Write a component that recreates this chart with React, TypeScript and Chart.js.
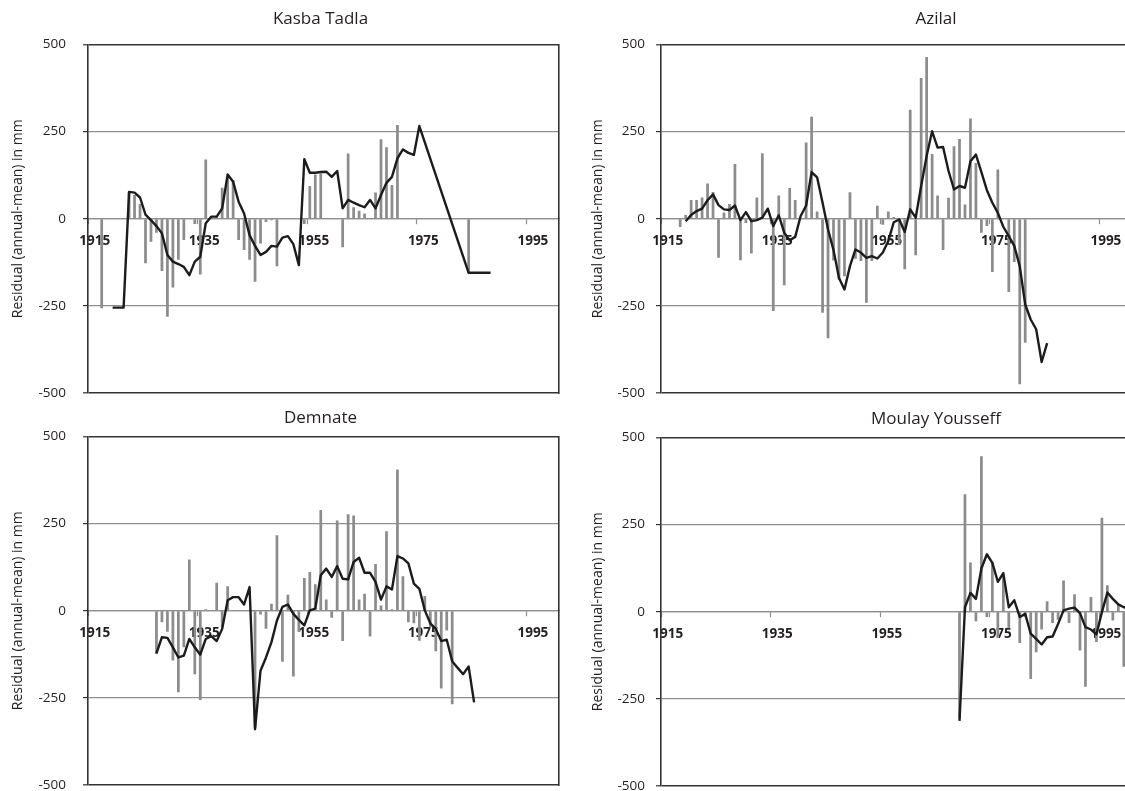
import React, { useEffect, useRef } from "react";
import { Chart, registerables } from "chart.js";

Chart.register(...registerables);

// ---------- categories ----------
const FIRST_YEAR = 1915;
const LEFT_YEAR_COUNT = 86; // 1915-2000
const RIGHT_YEAR_COUNT = 100; // 1915-2014
const leftYears: string[] = Array.from({ length: LEFT_YEAR_COUNT }, (_, i) => String(FIRST_YEAR + i));
const rightYears: string[] = Array.from({ length: RIGHT_YEAR_COUNT }, (_, i) => String(FIRST_YEAR + i));
const TICK_YEARS = ["1915", "1935", "1955", "1975", "1995"];
const Y_TICKS = [-500, -250, 0, 250, 500];

// ---------- Kasba Tadla (1915-2000) ----------
const kasbaBars: (number | null)[] = [
  null, null, -257, null, null, null, null, 75, 68, 42,
  -128, -66, -40, -150, -281, -197, -118, -61, null, -15,
  -160, 170, 8, 4, 89, 120, 111, -61, -90, -118,
  -181, -71, -9, -4, -136, null, null, null, null, -15,
  94, 127, 130, null, null, null, -82, 187, 33, 23,
  15, 2, 75, 228, 205, 97, 269, null, null, null,
  null, null, null, null, null, null, null, null, null, -155,
  null, null, null, null, null, null, null, null, null, null,
  null, null, null, null, null, null,
];
const kasbaLine: (number | null)[] = [
  null, null, null, null, -255, -255, -255, 77, 75, 61,
  12, -4, -21, -42, -104, -123, -130, -138, -162, -123,
  -109, -13, 6, 6, 30, 127, 106, 49, 15, -47,
  -78, -104, -95, -78, -80, -54, -50, -73, -133, 171,
  132, 132, 134, 135, 120, 137, 30, 54, 46, 39,
  33, 54, 30, 68, 103, 120, 173, 199, 189, 183,
  266, null, null, null, null, null, null, null, null, -155,
  -155, -155, -155, -155, null, null, null, null, null, null,
  null, null, null, null, null, null,
];

// ---------- Azilal (1915-2014) ----------
const azilalBars: (number | null)[] = [
  null, null, null, -24, 11, 54, 54, 61, 101, 77,
  -112, 18, 42, 157, -119, -12, -100, 61, 188, null,
  -265, 67, -191, 88, 54, null, 219, 293, 21, -270,
  -343, -120, -175, -165, 76, -115, -121, -241, -121, 37,
  -17, 21, 5, -75, -145, 313, -105, 404, 464, 186,
  67, -90, 60, 208, 229, 41, 288, 160, -40, -21,
  -153, 141, null, -210, -124, -475, -356, null, null, null,
  null, null, null, null, null, null, null, null, null, null,
  null, null, null, null, null, null, null, null, null, null,
  null, null, null, null, null, null, null, null, null, null,
];
const azilalLine: (number | null)[] = [
  null, null, null, null, -7, 11, 22, 29, 53, 70,
  39, 27, 25, 38, -4, 19, -7, -4, 3, 29,
  -21, 10, -40, -62, -52, 8, 38, 134, 119, 46,
  -31, -90, -170, -203, -136, -88, -97, -112, -107, -114,
  -97, -64, -10, -2, -38, 27, 3, 94, 180, 251,
  204, 206, 137, 84, 94, 89, 165, 184, 134, 82,
  46, 17, -23, -50, -78, -136, -246, -289, -317, -411,
  -357, null, null, null, null, null, null, null, null, null,
  null, null, null, null, null, null, null, null, null, null,
  null, null, null, null, null, null, null, null, null, null,
];

// ---------- Demnate (1915-2000) ----------
const demnateBars: (number | null)[] = [
  null, null, null, null, null, null, null, null, null, null,
  null, null, -124, -33, -60, -143, -234, -105, 147, -182,
  -256, 4, null, 80, -47, 70, null, null, null, null,
  -335, -11, -52, 20, 217, -146, 46, -189, -61, 94,
  111, 76, 289, 32, -20, 259, -87, 277, 273, 32,
  49, -74, 134, 15, 228, 4, 405, 99, -33, -36,
  -86, 42, -47, -116, -223, -57, -268, null, null, null,
  null, null, null, null, null, null, null, null, null, null,
  null, null, null, null, null, null,
];
const demnateLine: (number | null)[] = [
  null, null, null, null, null, null, null, null, null, null,
  null, null, -122, -76, -78, -105, -134, -129, -81, -105,
  -126, -81, -73, -87, -52, 30, 39, 39, 18, 68,
  -340, -172, -134, -90, -28, 11, 18, -9, -26, -42,
  1, 6, 102, 121, 97, 128, 92, 90, 140, 152,
  109, 109, 83, 32, 70, 61, 157, 150, 136, 78,
  63, 1, -36, -52, -87, -83, -145, -164, -182, -160,
  -263, null, null, null, null, null, null, null, null, null,
  null, null, null, null, null, null,
];

// ---------- Moulay Youssef (1915-2014) ----------
const moulayBars: (number | null)[] = [
  null, null, null, null, null, null, null, null, null, null,
  null, null, null, null, null, null, null, null, null, null,
  null, null, null, null, null, null, null, null, null, null,
  null, null, null, null, null, null, null, null, null, null,
  null, null, null, null, null, null, null, null, null, null,
  null, null, null, null, -305, 337, 141, -27, 446, -15,
  143, -75, 100, -47, null, -90, -15, -193, -116, -51,
  30, -32, -23, 90, -32, 50, -111, -215, 42, -87,
  270, 76, -25, 20, -158, null, null, null, null, null,
  null, null, null, null, null, null, null, null, null, null,
];
const moulayLine: (number | null)[] = [
  null, null, null, null, null, null, null, null, null, null,
  null, null, null, null, null, null, null, null, null, null,
  null, null, null, null, null, null, null, null, null, null,
  null, null, null, null, null, null, null, null, null, null,
  null, null, null, null, null, null, null, null, null, null,
  null, null, null, null, -313, 13, 54, 37, 124, 165,
  140, 86, 111, 13, 33, -15, -6, -63, -78, -94,
  -73, -71, -35, 4, 9, 12, -4, -44, -51, -65,
  -1, 55, 37, 21, 13, 10, null, null, null, null,
  null, null, null, null, null, null, null, null, null, null,
];

// ---------- styles ----------
const FONT_FAMILY = "'Open Sans', 'Noto Sans', 'DejaVu Sans', sans-serif";
const TEXT_COLOR = "#231f20";
const BAR_COLOR = "#8c8c8c";
const LINE_COLOR = "#1c1c1c";
const GRID_COLOR = "#8f8f8f";
const FRAME_COLOR = "#333333";
const Y_TITLE = "Residual (annual-mean) in mm";

type PanelSpec = {
  title: string;
  years: string[];
  bars: (number | null)[];
  line: (number | null)[];
  left: number;
  top: number;
  width: number;
  height: number;
  plotBottom: number;
  yWidth: number;
  padRight: number;
  yTickPad: number;
  titleX: number;
  titleY: number;
};

const panels: PanelSpec[] = [
  { title: "Kasba Tadla", years: leftYears, bars: kasbaBars, line: kasbaLine, left: 0, top: 0, width: 600, height: 410, plotBottom: 393, yWidth: 88, padRight: 41, yTickPad: 17, titleX: 320.5, titleY: 19.5 },
  { title: "Azilal", years: rightYears, bars: azilalBars, line: azilalLine, left: 580, top: 0, width: 640, height: 410, plotBottom: 393, yWidth: 81, padRight: 11.3, yTickPad: 11, titleX: 356, titleY: 19.5 },
  { title: "Demnate", years: leftYears, bars: demnateBars, line: demnateLine, left: 0, top: 392, width: 600, height: 410, plotBottom: 393, yWidth: 88, padRight: 41, yTickPad: 17, titleX: 320.5, titleY: 26.5 },
  { title: "Moulay Yousseff", years: rightYears, bars: moulayBars, line: moulayLine, left: 580, top: 393, width: 640, height: 410, plotBottom: 393, yWidth: 81, padRight: 11.3, yTickPad: 11, titleX: 356, titleY: 26.5 },
];

const panelTitlePlugin = {
  id: "panelTitle",
  afterDraw(chart: any, _args: any, opts: any) {
    const ctx = chart.ctx;
    ctx.save();
    ctx.font = `17px ${FONT_FAMILY}`;
    ctx.fillStyle = TEXT_COLOR;
    ctx.textAlign = "center";
    ctx.textBaseline = "middle";
    ctx.fillText(opts.text, opts.x, opts.y);
    ctx.restore();
  },
};

const isEdge = (ctx: any) => ctx.tick && Math.abs(ctx.tick.value) === 500;

function makeConfig(p: PanelSpec): any {
  return {
    type: "bar",
    data: {
      labels: p.years,
      datasets: [
        {
          type: "line",
          data: p.line,
          borderColor: LINE_COLOR,
          borderWidth: 2.4,
          pointRadius: 0,
          pointHoverRadius: 0,
          tension: 0,
          spanGaps: true,
          fill: false,
          borderJoinStyle: "round",
          order: 0,
        },
        {
          type: "bar",
          data: p.bars,
          backgroundColor: BAR_COLOR,
          borderWidth: 0,
          barPercentage: 0.5,
          categoryPercentage: 1,
          order: 1,
        },
      ],
    },
    options: {
      responsive: false,
      maintainAspectRatio: false,
      animation: false,
      devicePixelRatio: 1,
      events: [],
      layout: { padding: { left: 0, top: 44.5, right: p.padRight, bottom: p.height - p.plotBottom } },
      plugins: {
        legend: { display: false },
        tooltip: { enabled: false },
        title: { display: false },
        panelTitle: { text: p.title, x: p.titleX, y: p.titleY },
      },
      scales: {
        x: {
          type: "category",
          position: { y: 0 },
          offset: true,
          afterFit: (scale: any) => {
            scale.height = 0;
            scale.paddingLeft = 0;
            scale.paddingRight = 0;
          },
          grid: {
            offset: true,
            drawOnChartArea: false,
            drawTicks: true,
            tickLength: 5,
            tickWidth: 1.2,
            tickColor: (ctx: any) => (ctx.index % 20 === 0 ? GRID_COLOR : "rgba(0,0,0,0)"),
          },
          border: { display: true, color: GRID_COLOR, width: 1.2 },
          ticks: {
            autoSkip: false,
            maxRotation: 0,
            minRotation: 0,
            padding: 9,
            labelOffset: 4,
            color: TEXT_COLOR,
            font: { family: FONT_FAMILY, size: 13.5, weight: "bold" },
            callback: (_v: any, index: number) => {
              const lab = p.years[index];
              return TICK_YEARS.includes(lab) ? lab : "";
            },
          },
        },
        y: {
          type: "linear",
          position: "left",
          min: Y_TICKS[0],
          max: Y_TICKS[Y_TICKS.length - 1],
          afterFit: (scale: any) => {
            scale.width = p.yWidth;
            scale.paddingTop = 0;
            scale.paddingBottom = 0;
          },
          afterBuildTicks: (scale: any) => {
            scale.ticks = Y_TICKS.map((v) => ({ value: v }));
          },
          grid: {
            color: (ctx: any) => (isEdge(ctx) ? FRAME_COLOR : GRID_COLOR),
            lineWidth: (ctx: any) => (isEdge(ctx) ? 1.6 : 1.2),
            drawTicks: true,
            tickLength: 5,
            tickColor: FRAME_COLOR,
            tickWidth: 1.2,
          },
          border: { display: true, color: FRAME_COLOR, width: 1.6 },
          ticks: {
            padding: p.yTickPad,
            color: TEXT_COLOR,
            font: { family: FONT_FAMILY, size: 13.5 },
            callback: (v: any) => String(v),
          },
          title: {
            display: true,
            text: Y_TITLE,
            color: TEXT_COLOR,
            font: { family: FONT_FAMILY, size: 14 },
            padding: { top: 9.5, bottom: 0 },
          },
        },
        yRight: {
          type: "linear",
          position: "right",
          min: Y_TICKS[0],
          max: Y_TICKS[Y_TICKS.length - 1],
          afterFit: (scale: any) => {
            scale.width = 0;
            scale.paddingTop = 0;
            scale.paddingBottom = 0;
          },
          grid: { drawOnChartArea: false, drawTicks: false },
          border: { display: true, color: FRAME_COLOR, width: 1.6 },
          ticks: { display: false },
        },
      },
    },
    plugins: [panelTitlePlugin],
  };
}

export default function App() {
  const refs = useRef<(HTMLCanvasElement | null)[]>([]);

  useEffect(() => {
    const charts: Chart[] = [];
    panels.forEach((p, i) => {
      const canvas = refs.current[i];
      if (!canvas) return;
      charts.push(new Chart(canvas, makeConfig(p)));
    });
    return () => {
      charts.forEach((c) => c.destroy());
    };
  }, []);

  return (
    <div
      style={{
        position: "fixed",
        left: 0,
        top: 0,
        width: 1125,
        height: 791,
        overflow: "hidden",
        background: "#ffffff",
      }}
    >
      {panels.map((p, i) => (
        <canvas
          key={p.title}
          ref={(el) => {
            refs.current[i] = el;
          }}
          width={p.width}
          height={p.height}
          style={{
            position: "absolute",
            left: p.left,
            top: p.top,
            width: p.width,
            height: p.height,
          }}
        />
      ))}
    </div>
  );
}
